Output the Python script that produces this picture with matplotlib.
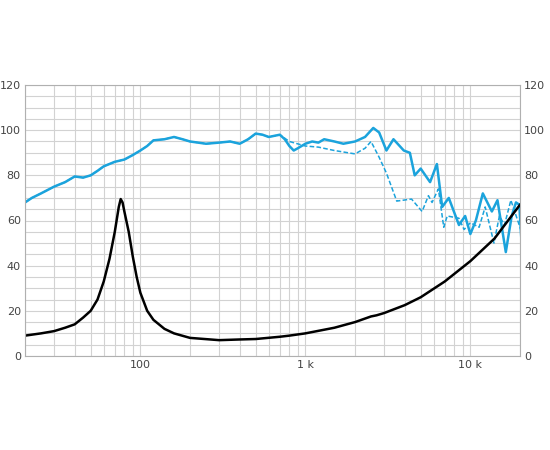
import matplotlib.pyplot as plt
from matplotlib.ticker import FixedLocator, NullFormatter

plt.rcParams['font.family'] = ['Liberation Sans Narrow', 'DejaVu Sans']

spl_f = [20, 22, 25, 30, 35, 40, 45, 50, 55, 60, 70, 80, 90, 100, 110, 120, 140, 160, 180, 200,
         250, 300, 350, 400, 450, 500, 550, 600, 700, 750, 800, 850, 900, 1000, 1100, 1200, 1300,
         1500, 1700, 2000, 2300, 2580, 2800, 3100, 3420, 3950, 4300, 4600, 5000, 5700, 6270, 6750,
         7400, 8530, 9300, 10000, 10800, 11900, 13500, 14600, 16400, 17800, 18900, 19800, 20400]
spl = [68, 70, 72, 75, 77, 79.5, 79, 80, 82, 84, 86, 87, 89, 91, 93, 95.5, 96, 97, 96, 95,
       94, 94.5, 95, 94, 96, 98.5, 98, 97, 98, 96, 93, 91, 92, 94, 95, 94.5, 96,
       95, 94, 95, 97, 101, 99, 91, 96, 91, 90, 80, 83, 77, 85, 66,
       70, 58, 62, 54, 60, 72, 64, 69, 46, 62, 68, 67, 51]

# off-axis response (dashed) above 700 Hz; below that it follows the on-axis curve
off_f = [800, 1000, 1200, 1500, 2000, 2300, 2500, 2800,
         3100, 3580, 4400, 5100, 5570, 5860, 6400, 6900, 7240, 8530, 9160, 10000, 11300, 12300,
         13900, 15000, 16100, 17600, 20200]
off = [95, 93, 92.5, 91, 89.5, 92, 95, 88,
       81, 68.6, 69.5, 64, 71, 68, 74, 57, 62, 61, 56, 59, 57, 66,
       50, 62, 58, 69, 56]

imp_f = [20, 25, 30, 35, 40, 45, 50, 55, 60, 65, 70, 74, 76, 78, 80, 85, 90, 95, 100, 110, 120,
         140, 160, 200, 300, 400, 500, 700, 800, 1000, 1500, 2000, 2500, 2700, 3000, 4000, 5000,
         7000, 10000, 14000, 20000]
imp = [9, 10, 11, 12.5, 14, 17, 20, 25, 33, 43, 55, 66, 69.5, 68, 64, 55, 44, 35, 28, 20, 16,
       12, 10, 8, 7, 7.3, 7.5, 8.5, 9, 10, 12.5, 15, 17.5, 18, 19, 22.5, 26,
       33, 42, 52, 67]

blue = '#1ba3dc'
fig = plt.figure(figsize=(5.5, 4.5), dpi=100)
ax = fig.add_axes([0.0455, 0.209, 0.9, 0.602])

n = spl_f.index(700)
ax.plot(spl_f[:n + 1] + off_f, spl[:n + 1] + off, color=blue, lw=1.1, ls=(0, (3, 1.5)))
ax.plot(spl_f, spl, color=blue, lw=1.8)
ax.plot(imp_f, imp, color='black', lw=1.8)

ax.set_xscale('log')
ax.set_xlim(20, 20000)
ax.set_ylim(0, 120)
ax.set_xticks([100, 1000, 10000])
ax.set_xticklabels(['100', '1 k', '10 k'])
minor = [m * 10 ** e for e in range(1, 5) for m in range(2, 10) if 20 <= m * 10 ** e <= 20000]
ax.xaxis.set_minor_locator(FixedLocator(minor))
ax.xaxis.set_minor_formatter(NullFormatter())
ax.set_yticks(range(0, 121, 20))
ax.yaxis.set_minor_locator(FixedLocator(range(0, 121, 5)))
ax.grid(True, which='both', color='#d2d2d2', lw=0.8)
ax.set_axisbelow(True)
ax.tick_params(which='both', length=0, labelsize=8, colors='#444444', pad=3)
ax.tick_params(axis='y', labelright=True)
for s in ax.spines.values():
    s.set_color('#b0b0b0')
    s.set_linewidth(0.8)

fig.savefig('out.png')
